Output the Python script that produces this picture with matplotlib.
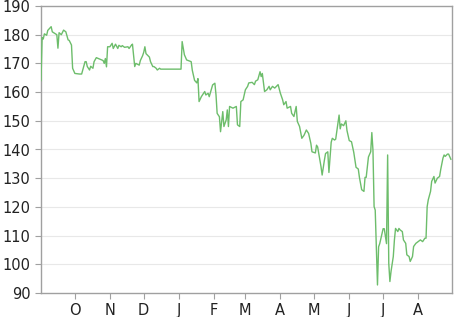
import pandas as pd
import matplotlib
matplotlib.use("Agg")
import matplotlib.pyplot as plt

# -------------------------------
# DATA
# -------------------------------
dates = [
    "2018-09-01", "2018-09-02", "2018-09-03", "2018-09-04", "2018-09-06", "2018-09-07",
    "2018-09-10", "2018-09-11", "2018-09-13", "2018-09-15", "2018-09-16", "2018-09-17",
    "2018-09-19", "2018-09-21", "2018-09-23", "2018-09-25", "2018-09-26", "2018-09-28",
    "2018-09-29", "2018-10-01", "2018-10-05", "2018-10-07", "2018-10-08", "2018-10-10",
    "2018-10-11", "2018-10-12", "2018-10-14", "2018-10-15", "2018-10-17", "2018-10-18",
    "2018-10-20", "2018-10-23", "2018-10-26", "2018-10-27", "2018-10-28", "2018-10-29",
    "2018-10-30", "2018-11-01", "2018-11-03", "2018-11-04", "2018-11-06", "2018-11-08",
    "2018-11-09", "2018-11-11", "2018-11-12", "2018-11-14", "2018-11-17", "2018-11-18",
    "2018-11-20", "2018-11-21", "2018-11-23", "2018-11-24", "2018-11-27", "2018-11-28",
    "2018-11-30", "2018-12-01", "2018-12-02", "2018-12-03", "2018-12-06", "2018-12-07",
    "2018-12-09", "2018-12-10", "2018-12-12", "2018-12-13", "2018-12-15", "2018-12-16",
    "2019-01-03", "2019-01-04", "2019-01-06", "2019-01-08", "2019-01-12", "2019-01-13",
    "2019-01-15", "2019-01-17", "2019-01-18", "2019-01-19", "2019-01-21", "2019-01-22",
    "2019-01-24", "2019-01-25", "2019-01-27", "2019-01-28", "2019-01-31", "2019-02-02",
    "2019-02-03", "2019-02-04", "2019-02-06", "2019-02-07", "2019-02-09", "2019-02-10",
    "2019-02-12", "2019-02-13", "2019-02-14", "2019-02-15", "2019-02-18", "2019-02-21",
    "2019-02-22", "2019-02-24", "2019-02-25", "2019-02-27", "2019-03-01", "2019-03-03",
    "2019-03-04", "2019-03-07", "2019-03-09", "2019-03-10", "2019-03-12", "2019-03-14",
    "2019-03-15", "2019-03-16", "2019-03-18", "2019-03-20", "2019-03-22", "2019-03-23",
    "2019-03-25", "2019-03-27", "2019-03-30", "2019-04-01", "2019-04-03", "2019-04-04",
    "2019-04-06", "2019-04-07", "2019-04-10", "2019-04-11", "2019-04-13", "2019-04-15",
    "2019-04-16", "2019-04-18", "2019-04-20", "2019-04-22", "2019-04-24", "2019-04-26",
    "2019-04-28", "2019-04-29", "2019-05-02", "2019-05-03", "2019-05-04", "2019-05-06",
    "2019-05-07", "2019-05-08", "2019-05-10", "2019-05-11", "2019-05-13", "2019-05-14",
    "2019-05-16", "2019-05-17", "2019-05-19", "2019-05-20", "2019-05-22", "2019-05-23",
    "2019-05-24", "2019-05-25", "2019-05-27", "2019-05-29", "2019-05-30", "2019-06-01",
    "2019-06-03", "2019-06-05", "2019-06-07", "2019-06-09", "2019-06-10", "2019-06-12",
    "2019-06-14", "2019-06-15", "2019-06-16", "2019-06-18", "2019-06-20", "2019-06-21",
    "2019-06-22", "2019-06-23", "2019-06-24", "2019-06-26", "2019-06-27", "2019-06-28",
    "2019-07-01", "2019-07-02", "2019-07-04", "2019-07-05", "2019-07-06", "2019-07-07",
    "2019-07-08", "2019-07-10", "2019-07-11", "2019-07-12", "2019-07-14", "2019-07-15",
    "2019-07-16", "2019-07-18", "2019-07-19", "2019-07-21", "2019-07-22", "2019-07-24",
    "2019-07-25", "2019-07-27", "2019-07-28", "2019-07-30", "2019-08-01", "2019-08-03",
    "2019-08-05", "2019-08-07", "2019-08-08", "2019-08-09", "2019-08-10", "2019-08-12",
    "2019-08-13", "2019-08-15", "2019-08-16", "2019-08-18", "2019-08-20", "2019-08-21",
    "2019-08-23", "2019-08-24", "2019-08-25", "2019-08-27", "2019-08-28", "2019-08-30",
]

prices = [
    164.0, 179.0, 178.5, 180.3, 179.8, 181.5,
    182.8, 181.0, 180.5, 180.0, 175.3, 180.7,
    180.0, 181.6, 181.0, 178.2, 178.0, 176.4,
    168.3, 166.5, 166.3, 166.3, 167.7, 170.6,
    170.6, 168.9, 167.7, 169.0, 168.3, 170.6,
    172.0, 171.5, 171.0, 170.0, 171.7, 168.8,
    175.8, 175.8, 177.0, 175.2, 176.7, 175.2,
    176.3, 175.8, 176.2, 175.6, 175.8, 175.2,
    176.3, 176.7, 168.9, 170.0, 169.4, 171.0,
    172.7, 173.9, 175.8, 173.4, 172.2, 170.6,
    168.9, 168.9, 168.3, 167.7, 168.3, 168.0,
    168.0, 177.6, 173.0, 171.2, 170.6, 167.6,
    164.1, 163.2, 164.7, 156.7, 158.4, 159.0,
    160.2, 159.0, 159.6, 158.4, 162.5, 163.1,
    159.0, 152.6, 151.4, 146.2, 153.2, 148.0,
    150.3, 153.8, 148.0, 155.0, 154.4, 155.0,
    148.6, 148.0, 156.7, 157.3, 160.8, 162.0,
    163.2, 163.4, 162.6, 163.8, 164.3, 167.1,
    165.4, 166.5, 160.2, 160.8, 162.0, 160.8,
    162.0, 161.4, 162.6, 159.6, 157.3, 155.6,
    156.7, 154.4, 155.0, 152.6, 151.5, 155.0,
    149.8, 148.0, 143.9, 145.0, 146.8, 145.6,
    142.1, 139.2, 138.8, 141.5, 140.9, 136.3,
    134.0, 131.1, 136.3, 138.6, 139.2, 132.0,
    142.5, 143.9, 143.3, 143.6, 149.1, 152.0,
    147.2, 148.9, 148.3, 150.0, 146.6, 143.1,
    142.7, 139.0, 133.8, 133.2, 130.3, 126.0,
    125.4, 130.3, 130.3, 137.4, 139.2, 145.9,
    139.8, 120.1, 118.9, 92.8, 106.1, 107.2,
    112.4, 112.4, 107.2, 138.1, 100.3, 94.0,
    97.5, 102.7, 108.5, 112.5, 111.4, 112.5,
    112.0, 111.4, 108.5, 107.3, 103.3, 102.7,
    101.0, 102.7, 106.2, 107.3, 107.9, 108.5,
    107.9, 109.1, 109.1, 120.1, 122.5, 125.4,
    128.9, 130.6, 128.3, 130.0, 130.6, 133.0,
    137.0, 138.1, 137.6, 138.4, 138.4, 136.6,
]

y_ticks = [90, 100, 110, 120, 130, 140, 150, 160, 170, 180, 190]
month_labels = ["O", "N", "D", "J", "F", "M", "A", "M", "J", "J", "A"]

x = pd.to_datetime(dates)

# -------------------------------
# PLOT
# -------------------------------
plt.rcParams['font.family'] = ['DejaVu Sans']

fig = plt.figure(figsize=(4.66, 3.17), dpi=100)
ax = fig.add_axes([41 / 466, 1 - 293 / 317, 411 / 466, 287 / 317])

ax.plot(x, prices, color="#6dbd6b", linewidth=1.0, zorder=3)

ax.set_xlim(pd.Timestamp("2018-09-01"), pd.Timestamp("2019-08-31"))
ax.set_ylim(90, 190)
ax.set_yticks(y_ticks)
ax.set_yticklabels([str(v) for v in y_ticks])

month_ticks = pd.date_range("2018-10-01", "2019-08-01", freq="MS")
ax.set_xticks(month_ticks)
ax.set_xticklabels(month_labels)

for v in y_ticks[1:-1]:
    ax.axhline(v, color="#e8e8e8", linewidth=0.8, zorder=1)

for side in ["left", "bottom", "top", "right"]:
    ax.spines[side].set_color("#a0a0a0")
    ax.spines[side].set_linewidth(1.0)

ax.tick_params(axis="both", colors="#a0a0a0", labelcolor="#222222",
               labelsize=10.5, length=4, width=0.8)
ax.tick_params(axis="y", pad=3.5)
ax.tick_params(axis="x", pad=3)

fig.savefig("out.png", dpi=100)
plt.close(fig)
